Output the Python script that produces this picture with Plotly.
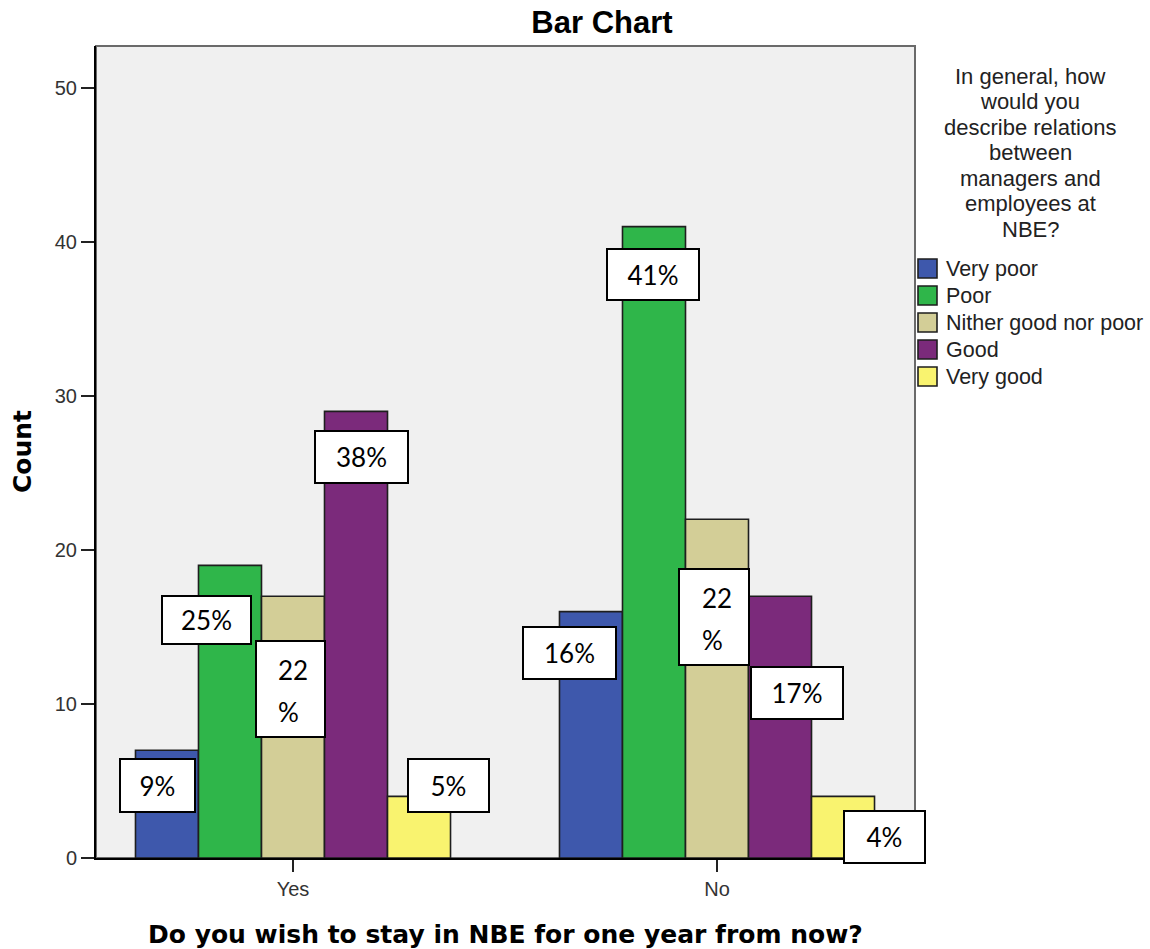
import plotly.graph_objects as go

# ---- data ----
groups = ["Yes", "No"]
categories = ["Very poor", "Poor", "Nither good nor poor", "Good", "Very good"]
counts_yes = [7, 19, 17, 29, 4]
counts_no = [16, 41, 22, 17, 4]
pct_yes = ["9%", "25%", "22%", "38%", "5%"]
pct_no = ["16%", "41%", "22%", "17%", "4%"]
colors = ["#3E58AC", "#2FB64A", "#D3CE97", "#7B2A7B", "#F9F36F"]
legend_title = ["In general, how", "would you", "describe relations", "between",
                "managers and", "employees at", "NBE?"]

# ---- geometry ----
W, H = 1150, 949
ML, MR, MT, MB = 96, 235, 46, 91
PX_PER_UNIT_X = 424.0
BARGAP = 0.257
group_x = [0, 1]
bar_step = (1 - BARGAP) / len(categories)

fig = go.Figure()
for i, cat in enumerate(categories):
    fig.add_trace(go.Bar(
        x=group_x, y=[counts_yes[i], counts_no[i]], name=cat,
        marker=dict(color=colors[i], line=dict(color="#1e1e1e", width=1.6)),
        showlegend=False, hoverinfo="x+y+name",
    ))

annotations = []


def box(x, y, xshift, yshift, w, h, text):
    annotations.append(dict(
        x=x, y=y, xref="x", yref="y", xshift=xshift, yshift=yshift,
        text=text, showarrow=False, xanchor="center", yanchor="middle",
        width=w - 4, height=h - 4, bgcolor="white", bordercolor="black",
        borderwidth=2, borderpad=0, align="center",
        font=dict(family="Lato", size=26, color="black"),
    ))


def plain(x, y, xshift, yshift, text, xanchor="center"):
    annotations.append(dict(
        x=x, y=y, xref="x", yref="y", xshift=xshift, yshift=yshift,
        text=text, showarrow=False, xanchor=xanchor, yanchor="middle",
        font=dict(family="Lato", size=26, color="black"),
    ))


# label placement per bar: (dx px, dy px below bar top, box w, box h)
place_yes = [(-9, 35, 77, 55), (-23, 55, 91, 50), (-3, 93, 71, 98),
             (5, 46, 95, 54), (29, -11, 83, 55)]
place_no = [(-21, 41, 95, 54), (-1, 48, 94, 53), (-3, 98, 72, 98),
            (17, 97, 94, 54), (41, 41, 83, 54)]

for g, counts, pcts, places in ((0, counts_yes, pct_yes, place_yes),
                                (1, counts_no, pct_no, place_no)):
    for i in range(len(categories)):
        bx = group_x[g] + (i - (len(categories) - 1) / 2) * bar_step
        dx, dy, w, h = places[i]
        if h > 80:
            # tall box with the value split across two lines
            box(bx, counts[i], dx, -dy, w, h, "&nbsp;")
            num = pcts[i].rstrip("%")
            plain(bx, counts[i], dx - 14, -dy + 19, num, xanchor="left")
            plain(bx, counts[i], dx - 14, -dy - 23, "%", xanchor="left")
        else:
            box(bx, counts[i], dx, -dy, w, h, pcts[i])

# axis titles
annotations.append(dict(
    text="Count", textangle=-90, x=0, y=0.5, xref="paper", yref="paper",
    xshift=-74, showarrow=False, xanchor="center", yanchor="middle",
    font=dict(family="DejaVu Sans", size=25, color="black", weight="bold"),
))
annotations.append(dict(
    text="Do you wish to stay in NBE for one year from now?", x=0.5, y=0,
    xref="paper", yref="paper", yshift=-76, showarrow=False,
    xanchor="center", yanchor="middle",
    font=dict(family="DejaVu Sans", size=25, color="black", weight="bold"),
))

# legend block at the right of the plot
for k, line in enumerate(legend_title):
    annotations.append(dict(
        text=line, x=1, y=1, xref="paper", yref="paper",
        xshift=115, yshift=-(76 + 25.5 * k - MT), showarrow=False,
        xanchor="center", yanchor="middle",
        font=dict(family="Liberation Sans", size=22, color="#222"),
    ))

shapes = [dict(type="rect", xref="paper", yref="paper", x0=0, x1=1, y0=0, y1=1,
               line=dict(color="#6a6a6a", width=2), layer="below")]
for i, cat in enumerate(categories):
    top = 259 + 27 * i
    shapes.append(dict(
        type="rect", xref="paper", yref="paper", xsizemode="pixel",
        ysizemode="pixel", xanchor=1, yanchor=1, x0=3, x1=22,
        y0=MT - top, y1=MT - top - 19,
        fillcolor=colors[i], line=dict(color="#1e1e1e", width=1.6),
    ))
    annotations.append(dict(
        text=cat, x=1, y=1, xref="paper", yref="paper",
        xshift=29, yshift=MT - (top + 10), showarrow=False,
        xanchor="left", yanchor="middle",
        font=dict(family="Liberation Sans", size=21.5, color="#222"),
    ))

plot_w = W - ML - MR
x_lo = -(293 - ML) / PX_PER_UNIT_X
x_hi = x_lo + plot_w / PX_PER_UNIT_X

fig.update_layout(
    width=W, height=H,
    margin=dict(l=ML, r=MR, t=MT, b=MB, pad=0),
    paper_bgcolor="white", plot_bgcolor="#F0F0F0",
    barmode="group", bargap=BARGAP, bargroupgap=0,
    title=dict(text="<b>Bar Chart</b>", x=602 / W, xref="container", xanchor="center",
               y=1 - 22 / H, yref="container", yanchor="middle",
               font=dict(family="Liberation Sans", size=31, color="black")),
    xaxis=dict(range=[x_lo, x_hi], tickmode="array", tickvals=group_x,
               ticktext=groups, showgrid=False, zeroline=False,
               showline=True, linecolor="black", linewidth=2,
               ticks="outside", ticklen=12, tickwidth=2, tickcolor="#222",
               tickfont=dict(family="Liberation Sans", size=20, color="#333")),
    yaxis=dict(range=[0, 52.73], tickmode="array", tickvals=[0, 10, 20, 30, 40, 50],
               showgrid=False, zeroline=False,
               showline=True, linecolor="black", linewidth=2,
               ticks="outside", ticklen=13, tickwidth=2, tickcolor="#222",
               tickfont=dict(family="Liberation Sans", size=20, color="#333")),
    annotations=annotations, shapes=shapes, showlegend=False,
)

fig.write_html("out.html")
